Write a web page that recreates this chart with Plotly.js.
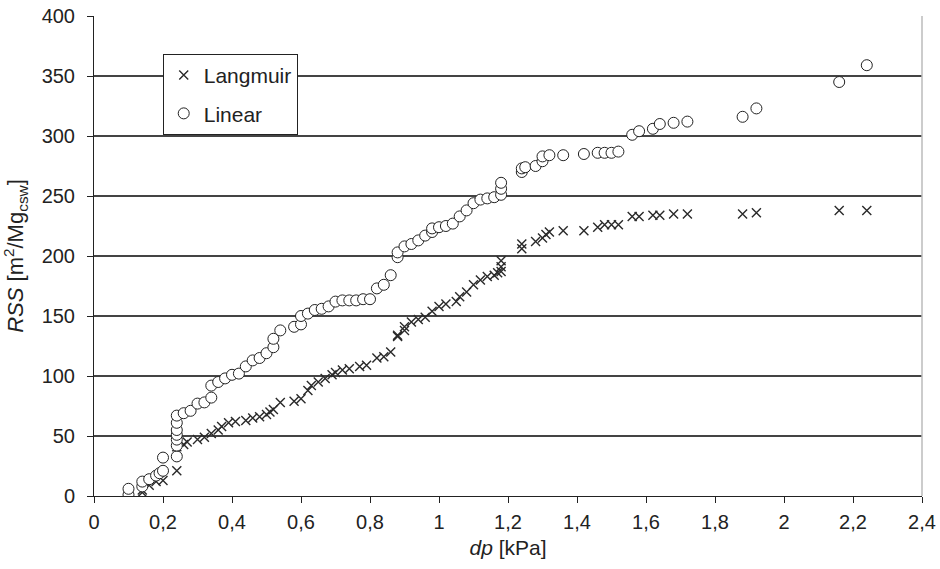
<!DOCTYPE html>
<html>
<head>
<meta charset="utf-8">
<script src="https://cdn.plot.ly/plotly-3.0.1.min.js"></script>
<style>html,body{margin:0;padding:0;background:#fff;}#chart{width:940px;height:569px;}</style>
</head>
<body>
<div id="chart"></div>
<script>
// Linear model (open circles)
const linearDp = [0.10,0.10,0.14,0.14,0.16,0.18,0.19,0.20,0.20,0.24,0.24,0.24,0.24,0.24,0.24,0.24,0.26,0.28,0.30,0.32,0.34,0.34,0.36,0.38,0.40,0.42,0.44,0.46,0.48,0.50,0.52,0.52,0.54,0.58,0.60,0.60,0.62,0.64,0.66,0.68,0.70,0.72,0.74,0.76,0.78,0.80,0.82,0.84,0.86,0.88,0.88,0.90,0.92,0.94,0.96,0.98,0.98,1.00,1.02,1.04,1.06,1.08,1.10,1.12,1.14,1.16,1.18,1.18,1.18,1.24,1.24,1.25,1.28,1.30,1.30,1.32,1.36,1.42,1.46,1.48,1.50,1.52,1.56,1.58,1.62,1.64,1.68,1.72,1.88,1.92,2.16,2.24];
const linearRss = [1,6,8,12,14,17,19,21,32,33,42,47,51,55,61,67,69,71,77,78,82,92,95,98,101,102,108,113,115,119,124,131,138,141,143,150,152,155,156,158,162,163,163,163,164,164,173,176,184,199,203,208,210,213,217,220,223,224,225,227,233,238,244,247,248,249,251,256,261,270,273,274,275,279,283,284,284,285,286,286,286,287,301,304,306,310,311,312,316,323,345,359];

// Langmuir model (crosses)
const langDp = [0.14,0.14,0.16,0.18,0.20,0.24,0.24,0.24,0.26,0.27,0.30,0.32,0.34,0.36,0.37,0.39,0.41,0.44,0.46,0.48,0.50,0.51,0.52,0.54,0.58,0.60,0.62,0.63,0.65,0.67,0.69,0.70,0.72,0.74,0.77,0.79,0.82,0.84,0.86,0.88,0.88,0.90,0.90,0.92,0.94,0.96,0.98,1.00,1.02,1.05,1.06,1.08,1.10,1.12,1.14,1.16,1.17,1.18,1.18,1.18,1.24,1.24,1.28,1.30,1.31,1.32,1.36,1.42,1.46,1.48,1.50,1.52,1.56,1.58,1.62,1.64,1.68,1.72,1.88,1.92,2.16,2.24];
const langRss = [3,5,9,12,13,21,38,41,43,45,47,49,52,55,58,61,62,63,65,66,68,70,72,78,79,81,88,92,95,98,101,103,105,106,108,109,115,116,120,133,134,138,141,145,147,149,154,158,160,162,166,170,176,180,183,184,186,187,191,196,206,210,212,215,218,220,221,221,224,226,226,226,233,233,234,234,235,235,235,236,238,238];

const seriesNames = ["Langmuir", "Linear"];

const traces = [
  {
    x: langDp, y: langRss, type: "scatter", mode: "markers", name: seriesNames[0],
    legendgroup: "a",
    marker: {symbol: "x-thin", size: 9, color: "#2a2a2a", line: {color: "#2a2a2a", width: 1.4}}
  },
  {
    x: linearDp, y: linearRss, type: "scatter", mode: "markers", name: seriesNames[1],
    legendgroup: "b",
    marker: {symbol: "circle", size: 11, color: "#ffffff", line: {color: "#222222", width: 1}}
  }
];

const fam = "Liberation Sans, Arial, sans-serif";
const tickFont = {family: fam, size: 20, color: "#222"};
const titleFont = {family: fam, size: 21, color: "#222"};
const yTitleFont = {family: fam, size: 22, color: "#222"};

const layout = {
  width: 940, height: 569,
  margin: {l: 94, r: 18, t: 16, b: 73, pad: 0},
  paper_bgcolor: "#fff", plot_bgcolor: "#fff",
  separators: ",.",
  font: tickFont,
  showlegend: true,
  legend: {
    x: 0.083, y: 0.921, xanchor: "left", yanchor: "top",
    bgcolor: "#fff", bordercolor: "#222", borderwidth: 1,
    font: {family: fam, size: 21, color: "#222"},
    tracegroupgap: 8, traceorder: "grouped", itemwidth: 30,
    entrywidth: 134
  },
  xaxis: {
    range: [0, 2.4], dtick: 0.2, tick0: 0,
    showgrid: false, zeroline: false,
    showline: true, linecolor: "#222", linewidth: 1,
    ticks: "outside", ticklen: 6, tickcolor: "#222",
    ticklabelstandoff: 2,
    tickfont: tickFont,
    title: {text: "<i>dp</i> [kPa]", font: titleFont, standoff: 8}
  },
  yaxis: {
    range: [0, 400], dtick: 50, tick0: 0,
    showgrid: true, gridcolor: "#444", gridwidth: 1.2,
    zeroline: false,
    showline: true, linecolor: "#222", linewidth: 1,
    ticks: "outside", ticklen: 6, tickcolor: "#222",
    ticklabelstandoff: 8,
    tickfont: tickFont,
    title: {text: "<i>RSS</i> [m<sup>2</sup>/Mg<sub>csw</sub>]", font: yTitleFont, standoff: 12}
  },
  shapes: [
    {type: "line", xref: "paper", yref: "paper", x0: 1, x1: 1, y0: 0, y1: 1,
     line: {color: "#bbbbbb", width: 1.5}}
  ]
};

Plotly.newPlot("chart", traces, layout, {displayModeBar: false, staticPlot: true});
</script>
</body>
</html>
